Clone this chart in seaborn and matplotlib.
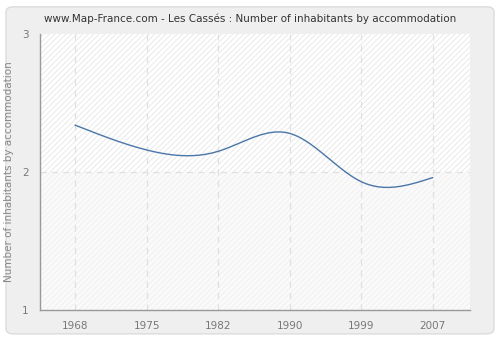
import numpy as np
import pandas as pd
import matplotlib
matplotlib.use("Agg")
import matplotlib.pyplot as plt
from matplotlib.patches import Rectangle, FancyBboxPatch
import seaborn as sns

years = ["1968", "1975", "1982", "1990", "1999", "2007"]
values = [2.34, 2.16, 2.15, 2.28, 1.93, 1.96]
y_ticks = [1, 2, 3]

title = "www.Map-France.com - Les Cassés : Number of inhabitants by accommodation"
ylabel = "Number of inhabitants by accommodation"


def natural_spline(x, y, n=300):
    x = np.asarray(x, float)
    y = np.asarray(y, float)
    k = len(x)
    h = np.diff(x)
    A = np.zeros((k, k))
    b = np.zeros(k)
    A[0, 0] = 1
    A[-1, -1] = 1
    for i in range(1, k - 1):
        A[i, i - 1] = h[i - 1]
        A[i, i] = 2 * (h[i - 1] + h[i])
        A[i, i + 1] = h[i]
        b[i] = 3 * ((y[i + 1] - y[i]) / h[i] - (y[i] - y[i - 1]) / h[i - 1])
    c = np.linalg.solve(A, b)
    xs = np.linspace(x[0], x[-1], n)
    ys = np.empty_like(xs)
    for j, xv in enumerate(xs):
        i = min(np.searchsorted(x, xv, side="right") - 1, k - 2)
        dx = xv - x[i]
        bi = (y[i + 1] - y[i]) / h[i] - h[i] * (2 * c[i] + c[i + 1]) / 3
        di = (c[i + 1] - c[i]) / (3 * h[i])
        ys[j] = y[i] + bi * dx + c[i] * dx ** 2 + di * dx ** 3
    return xs, ys


sns.set_style("white")
plt.rcParams["font.family"] = ["DejaVu Sans"]
plt.rcParams["hatch.linewidth"] = 0.6

fig = plt.figure(figsize=(5, 3.4), dpi=100)
fig.patch.set_facecolor("white")
bg = FancyBboxPatch((0.012, 0.018), 0.976, 0.962,
                    boxstyle="round,pad=0,rounding_size=0.015",
                    transform=fig.transFigure, facecolor="#efefef",
                    edgecolor="#dcdcdc", linewidth=1.0, zorder=-10)
fig.patches.append(bg)

ax = fig.add_axes([0.08, 0.088, 0.86, 0.812])
ax.set_zorder(1)
ax.set_facecolor("white")

pos = np.arange(len(years))
xs, ys = natural_spline(pos, values)
df = pd.DataFrame({"x": xs, "y": ys})

ax.set_xlim(-0.49, 5.52)
ax.set_ylim(1, 3)

# background bands with hatch
ax.add_patch(Rectangle((-0.49, 2), 6.01, 1, facecolor="white", edgecolor="#e6e6e6",
                       hatch="//////", linewidth=0, zorder=0))
ax.add_patch(Rectangle((-0.49, 1), 6.01, 1, facecolor="#fafafa", edgecolor="#efefef",
                       hatch="//////", linewidth=0, zorder=0))

for p in pos:
    ax.axvline(p, color="#e0e0e0", linestyle=(0, (5, 4)), linewidth=0.9, zorder=1)
ax.axhline(2, color="#e0e0e0", linestyle=(0, (5, 4)), linewidth=0.9, zorder=1)

sns.lineplot(data=df, x="x", y="y", ax=ax, color="#4a76a8", linewidth=1.0, zorder=3)

ax.set_xticks(pos)
ax.set_xticklabels(years)
ax.set_yticks(y_ticks)
ax.set_yticklabels([str(v) for v in y_ticks])
ax.tick_params(axis="both", colors="#999999", labelcolor="#777777", labelsize=7.5,
               length=5, width=0.9, direction="out")
ax.tick_params(axis="x", pad=3)
ax.tick_params(axis="y", pad=3)

for s in ["top", "right"]:
    ax.spines[s].set_visible(False)
for s in ["left", "bottom"]:
    ax.spines[s].set_color("#999999")
    ax.spines[s].set_linewidth(1.0)

ax.set_xlabel("")
ax.set_ylabel(ylabel, color="#888888", fontsize=7.5, labelpad=6)
fig.text(0.5, 0.945, title, ha="center", va="center", fontsize=7.5, color="#333333")

fig.savefig("out.png", dpi=100, facecolor=fig.get_facecolor())
